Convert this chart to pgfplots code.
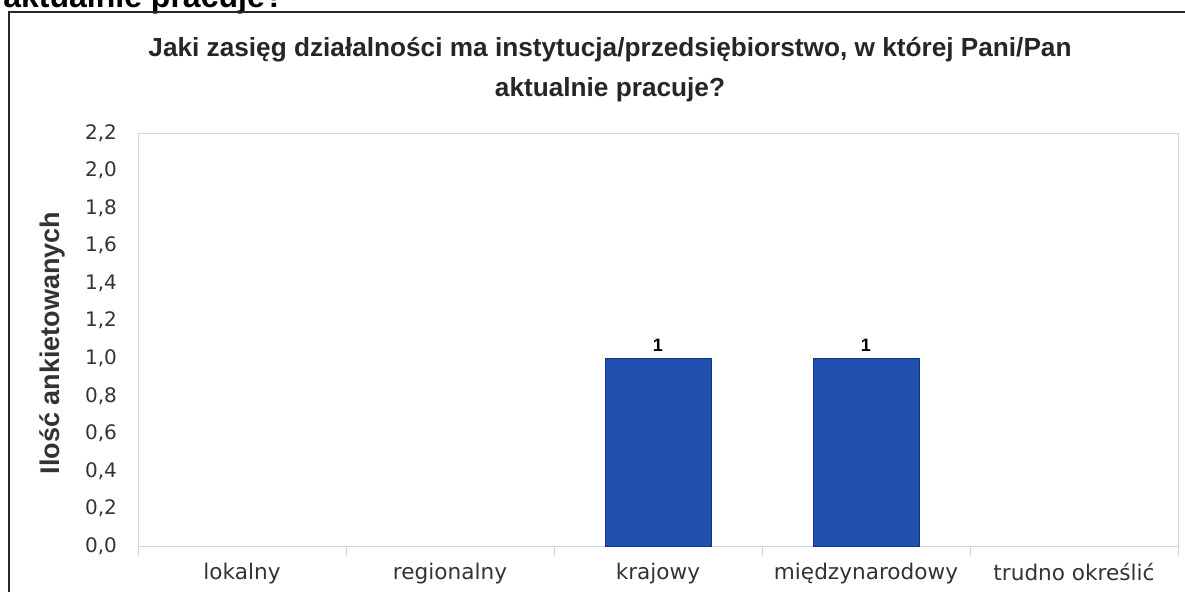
\documentclass[border=0pt]{standalone}
\usepackage{fontspec}
\setmainfont{Liberation Sans}
\newfontfamily\tickfont{DejaVu Sans}
\usepackage{pgfplots}
\pgfplotsset{compat=1.18}
\definecolor{barblue}{RGB}{32,80,176}
\definecolor{baredge}{RGB}{22,52,120}
\definecolor{plotframe}{RGB}{208,211,225}
\begin{document}
\begin{tikzpicture}
\useasboundingbox (0,0) rectangle (592.5pt,295.5pt);
\node[anchor=base west, font=\fontsize{16}{19}\selectfont\bfseries, inner sep=0] at (1.5pt,292pt) {aktualnie pracuje?};
\draw[line width=1pt, black!85] (4.5pt,-5pt) |- (600pt,289.5pt);
\node[anchor=base, font=\fontsize{13.1}{15}\selectfont\bfseries, inner sep=0, text=black!85] at (305pt,267.5pt) {Jaki zasięg działalności ma instytucja/przedsiębiorstwo, w której Pani/Pan};
\node[anchor=base, font=\fontsize{13.1}{15}\selectfont\bfseries, inner sep=0, text=black!85] at (305pt,247.5pt) {aktualnie pracuje?};
\node[rotate=90, font=\fontsize{13.5}{16}\selectfont\bfseries, text=black!80] at (26pt,124pt) {Ilość ankietowanych};
\begin{axis}[
  at={(69pt,22.5pt)}, anchor=south west,
  scale only axis, width=520pt, height=206.5pt,
  xmin=-0.5, xmax=4.5, ymin=0, ymax=2.2,
  axis line style={plotframe},
  tick pos=left,
  xtick={0,1,2,3,4},
  xticklabels={lokalny, regionalny, krajowy, międzynarodowy, trudno określić},
  major tick length=0pt,
  minor xtick={-0.5,0.5,1.5,2.5,3.5,4.5},
  xtick align=outside,
  minor tick length=5pt,
  minor tick style={plotframe},
  ytick={0,0.2,0.4,0.6,0.8,1.0,1.2,1.4,1.6,1.8,2.0,2.2},
  ytick style={draw=none},
  ticklabel style={font=\tickfont\fontsize{10}{12}\selectfont, text=black!80},
  /pgf/number format/assume math mode=true,
  yticklabel style={xshift=-7pt, /pgf/number format/.cd, fixed, fixed zerofill, precision=1, use comma},
  xticklabel style={yshift=-5pt, font=\tickfont\fontsize{10.8}{12}\selectfont},
  ybar, bar width=53pt,
  nodes near coords,
  every node near coord/.append style={font=\fontsize{9}{10}\selectfont\bfseries, text=black, /pgf/number format/.cd, fixed, precision=0},
]
% lokalny 0, regionalny 0, trudno okreslic 0 (no bars)
\addplot[fill=barblue, draw=baredge] coordinates {(2,1) (3,1)};
\end{axis}
\end{tikzpicture}
\end{document}
